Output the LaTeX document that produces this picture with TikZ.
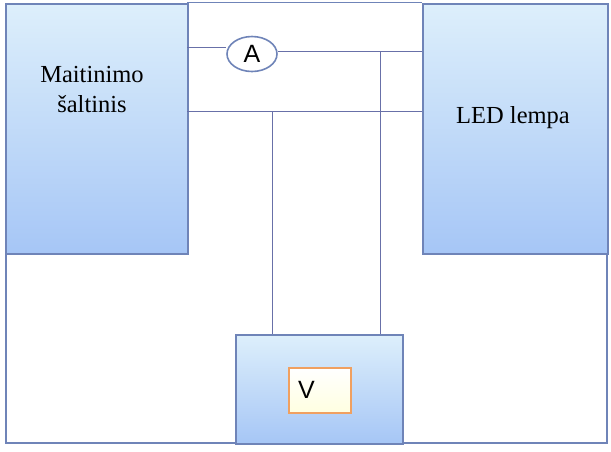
\documentclass[tikz,border=0pt]{standalone}
\usepackage{fontspec}
\setmainfont{Liberation Serif}
\newfontfamily\sansf{Liberation Sans}
\usetikzlibrary{shapes.geometric}
\definecolor{edgeblue}{HTML}{6F84B8}
\definecolor{wire}{HTML}{6870A8}
\definecolor{topblue}{HTML}{DDEFFB}
\definecolor{botblue}{HTML}{A6C6F6}
\definecolor{vorange}{HTML}{F0A060}
\tikzset{
  unitbox/.style={draw=edgeblue, line width=1.5pt, top color=topblue, bottom color=botblue, inner sep=0pt},
  wireline/.style={draw=wire, line width=0.9pt},
  lbl/.style={font=\fontsize{24.5}{30}\selectfont, align=center, inner sep=0pt},
  meter/.style={font=\sansf\fontsize{25}{28}\selectfont, inner sep=0pt}
}
\begin{document}
\begin{tikzpicture}[x=1pt,y=-1pt]
\useasboundingbox (0,0) rectangle (611,451);
% outer frame
\coordinate (fl) at (6,253);
\coordinate (fbl) at (6,443);
\coordinate (fbr) at (607,443);
\coordinate (fr) at (607,253);
\draw[wireline, draw=edgeblue, line width=1.6pt] (fl) -- (fbl) -- (fbr) -- (fr);
\coordinate (ftl) at (187,2);
\coordinate (ftr) at (422,2);
\draw[wireline, draw=edgeblue] (ftl) -- (ftr);
% boxes
\node[unitbox, minimum width=182pt, minimum height=250pt, anchor=north west] (ps) at (5,3) {};
\node[unitbox, minimum width=185pt, minimum height=250pt, anchor=north west] (led) at (422,3) {};
\node[unitbox, minimum width=167pt, minimum height=109pt, anchor=north west] (vm) at (235,334) {};
\node[lbl] (pstxt) at (92,90) {Maitinimo\\šaltinis};
\node[lbl] (ledtxt) at (513,118) {LED lempa};
% ammeter
\node[ellipse, draw=edgeblue, line width=1.6pt, fill=white, minimum width=50pt, minimum height=35pt, inner sep=0pt, meter] (A) at (252,54) {A};
% voltmeter
\node[draw=vorange, line width=1.6pt, top color=white, bottom color=yellow!12, minimum width=62pt, minimum height=45pt, anchor=north west, meter] (V) at (288,367) {};
\node[meter, anchor=west] (Vt) at (298,390) {V};
% wires
\coordinate (w1a) at (187,47);
\coordinate (w1b) at (422,51);
\draw[wireline] (w1a) -- (A.west |- w1a);
\draw[wireline] (A.east |- w1b) -- (w1b);
\coordinate (w2a) at (187,111);
\coordinate (w2b) at (422,111);
\draw[wireline] (w2a) -- (w2b);
\coordinate (v1t) at (272,111);
\coordinate (v2t) at (380,51);
\draw[wireline] (v1t) -- (v1t |- vm.north);
\draw[wireline] (v2t) -- (v2t |- vm.north);
\end{tikzpicture}
\end{document}
